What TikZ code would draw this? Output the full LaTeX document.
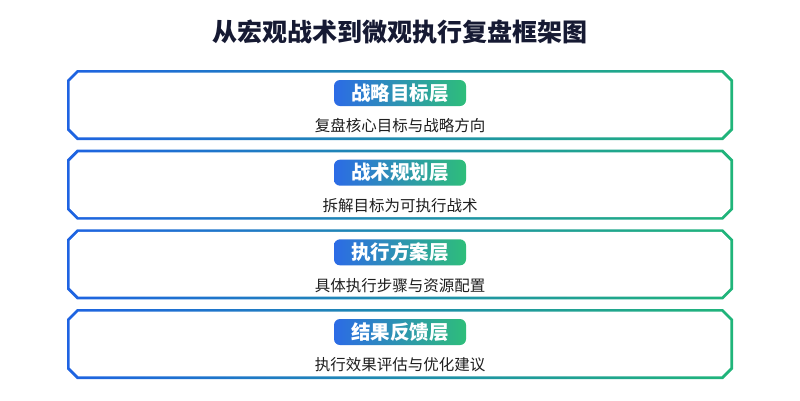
\documentclass[tikz,border=0pt]{standalone}
\usepackage{fontspec}
\setmainfont{Noto Sans CJK SC}
\newfontfamily\titlefont{Noto Sans CJK SC Black}
\definecolor{blueA}{HTML}{1E63E2}
\definecolor{greenA}{HTML}{20B57A}
\definecolor{pillL}{HTML}{2C6BE6}
\definecolor{pillR}{HTML}{2EBE7A}
\definecolor{titleC}{HTML}{161A33}
\definecolor{subC}{HTML}{1E1E1E}
\newcommand\octo[5]{(#1+#5,#2) -- (#3-#5,#2) -- (#3,#2+#5) -- (#3,#4-#5) -- (#3-#5,#4) -- (#1+#5,#4) -- (#1,#4-#5) -- (#1,#2+#5) -- cycle}
\tikzset{
  pillbox/.style={rounded corners=6pt, minimum width=132pt, minimum height=26pt, inner sep=0pt,
    left color=pillL, right color=pillR, text=white, font=\fontsize{19.5}{20}\selectfont\bfseries},
  subtext/.style={text=subC, inner sep=0pt, font=\fontsize{15.5}{16}\selectfont},
  titletext/.style={text=titleC, inner sep=0pt, font=\fontsize{25}{26}\selectfont\titlefont}
}
\begin{document}
\begin{tikzpicture}[x=1pt,y=-1pt]
\fill[white] (0,0) rectangle (800,400);
\useasboundingbox (0,0) rectangle (800,400);
\node[titletext] (title) at (400,32) {从宏观战术到微观执行复盘框架图};
\foreach \i/\lab/\sub in {0/战略目标层/复盘核心目标与战略方向,1/战术规划层/拆解目标为可执行战术,2/执行方案层/具体执行步骤与资源配置,3/结果反馈层/执行效果评估与优化建议}{
  \pgfmathsetmacro\top{70+79.67*\i}
  \pgfmathsetmacro\bot{\top+70}
  \shade[left color=blueA, right color=greenA] \octo{67}{\top}{733}{\bot}{10};
  \fill[white] \octo{69.6}{\top+2.6}{730.4}{\bot-2.6}{8.9};
  \node[pillbox] (pill\i) at (400,\top+23) {\lab};
  \node[subtext] (sub\i) at (400,\top+56) {\sub};
}
\end{tikzpicture}
\end{document}
